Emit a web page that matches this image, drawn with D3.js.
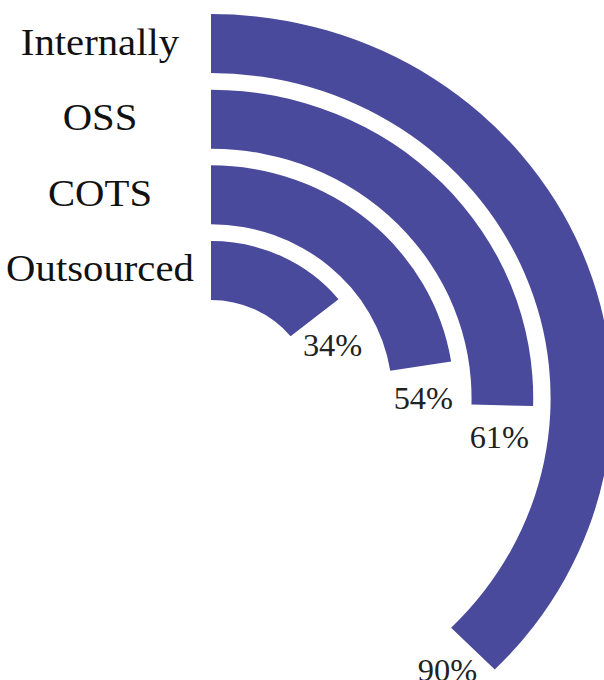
<!DOCTYPE html>
<html>
<head>
<meta charset="utf-8">
<script src="https://cdn.jsdelivr.net/npm/d3@7"></script>
<style>
  html, body { margin: 0; padding: 0; background: #fff; overflow: hidden; }
  svg { display: block; }
</style>
</head>
<body>
<svg id="chart" width="604" height="680"></svg>
<script>
// Share of development approaches (percent), outermost ring first
const categories = ["Internally", "OSS", "COTS", "Outsourced"];
const values = [90, 61, 54, 34];
const valueLabels = ["90%", "61%", "54%", "34%"];

const width = 604, height = 680;
const cx = 211, cy = 398;
const stretchX = 1.045;          // the whole figure is drawn slightly wider than tall
const barColor = "#4a4a9c";
const serif = "'Liberation Serif', 'Times New Roman', serif";

const svg = d3.select("#chart");

// angle: 0% at 12 o'clock, sweeping clockwise; 100% covers 150 degrees
const angle = d3.scaleLinear().domain([0, 100]).range([0, Math.PI * 5 / 6]);

// radial bands, innermost category closest to the centre
const radius = d3.scaleBand()
  .domain(categories.slice().reverse())
  .range([98, 384])
  .paddingInner(0.22)
  .paddingOuter(0);

const rows = categories.map((c, i) => ({ cat: c, value: values[i], label: valueLabels[i] }));

const arc = d3.arc()
  .innerRadius(d => radius(d.cat))
  .outerRadius(d => radius(d.cat) + radius.bandwidth())
  .startAngle(0)
  .endAngle(d => angle(d.value));

const rings = svg.append("g")
  .attr("transform", `translate(${cx},${cy}) scale(${stretchX},1)`);

rings.selectAll("path")
  .data(rows)
  .join("path")
  .attr("d", arc)
  .attr("fill", barColor);

// point on a ring in page coordinates
function polar(r, a) {
  return [cx + stretchX * r * Math.sin(a), cy - r * Math.cos(a)];
}

// category names to the left of each ring's starting edge
svg.append("g")
  .selectAll("text")
  .data(rows)
  .join("text")
  .attr("transform", d => {
    const y = cy - (radius(d.cat) + radius.bandwidth() / 2) + 11;
    return `translate(100,${y}) scale(${stretchX},1)`;
  })
  .attr("text-anchor", "middle")
  .attr("font-family", serif)
  .attr("font-size", 39)
  .attr("fill", "#111")
  .text(d => d.cat);

// value labels just past the end of each ring
svg.append("g")
  .selectAll("text")
  .data(rows)
  .join("text")
  .attr("transform", d => {
    const rMid = radius(d.cat) + radius.bandwidth() / 2;
    const a = angle(d.value) + 33 / rMid;
    const [x, y] = polar(rMid, a);
    return `translate(${x},${y + 10}) scale(${stretchX},1)`;
  })
  .attr("text-anchor", "middle")
  .attr("font-family", serif)
  .attr("font-size", 31)
  .attr("fill", "#222")
  .text(d => d.label);
</script>
</body>
</html>
